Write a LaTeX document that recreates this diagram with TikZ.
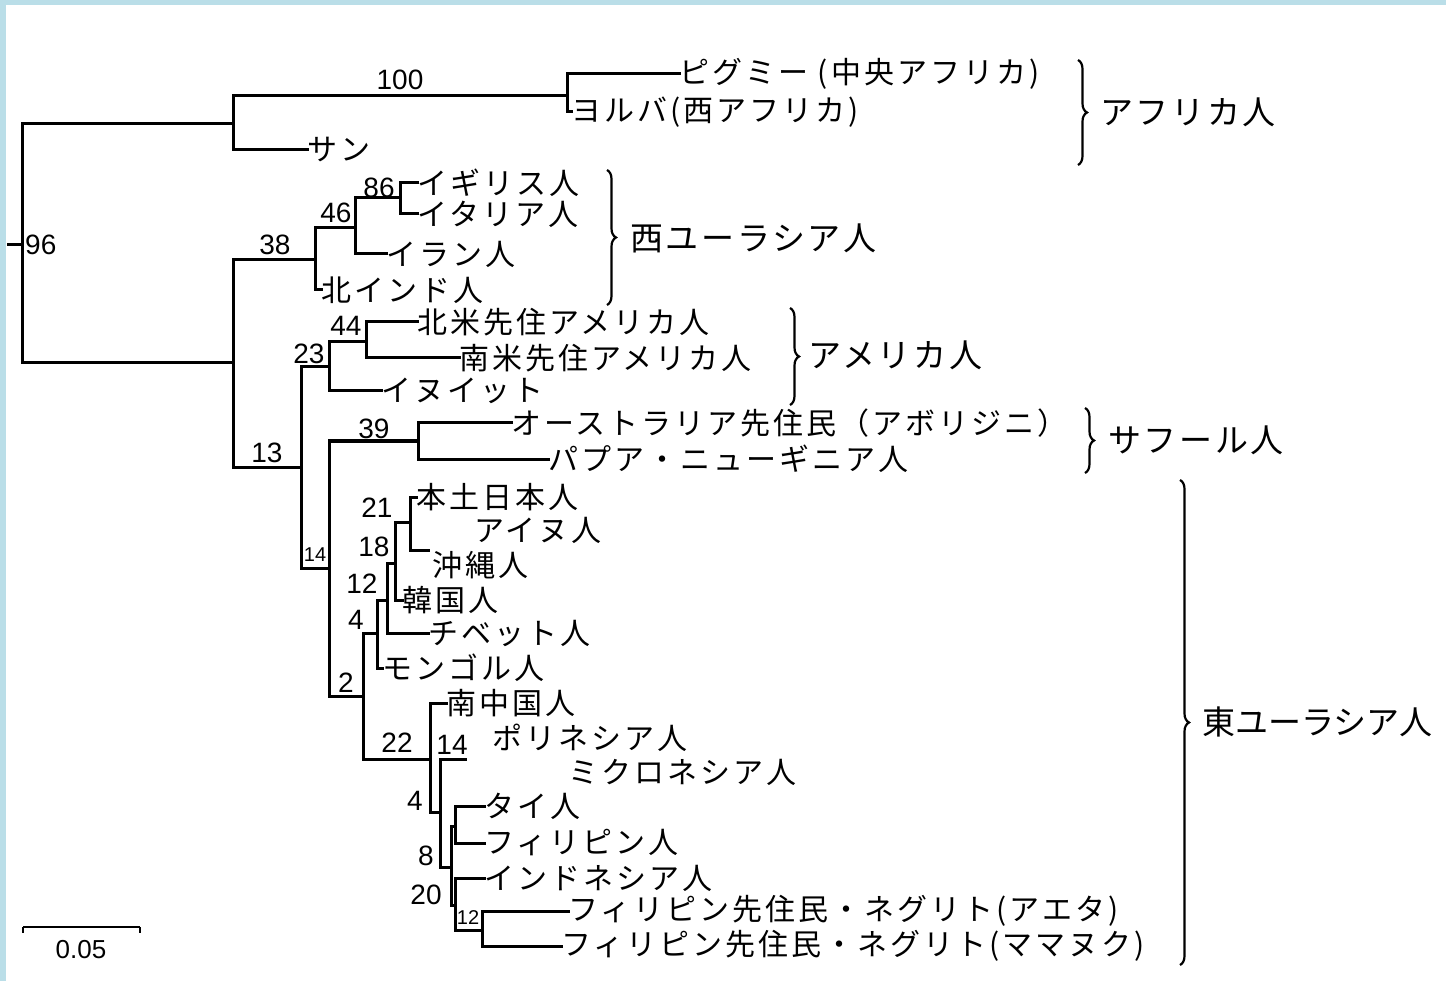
\documentclass[tikz,border=0pt]{standalone}
\usepackage{fontspec}
\newfontfamily\jp[LetterSpace=10]{Noto Sans CJK JP}
\newfontfamily\jpg[LetterSpace=8]{Noto Sans CJK JP}
\newfontfamily\jpn{Noto Sans CJK JP}
\newfontfamily\num{Liberation Sans}
\usetikzlibrary{decorations.pathreplacing}
\definecolor{frameblue}{RGB}{186,222,232}
\begin{document}
\begin{tikzpicture}[x=1pt,y=-1pt,
  tline/.style={line width=3pt, line join=miter, line cap=rect},
  leaf/.style={anchor=west, inner sep=0pt, font=\jp\fontsize{30}{30}\selectfont},
  free/.style={anchor=west, inner sep=0pt, font=\jp\fontsize{30}{30}\selectfont},
  grp/.style={anchor=west, inner sep=0pt, font=\jpg\fontsize{33}{33}\selectfont},
  bs/.style={inner sep=0pt, font=\num\fontsize{28}{30}\selectfont},
  bsmall/.style={inner sep=0pt, font=\num\fontsize{20}{22}\selectfont},
  brc/.style={decorate, decoration={brace, amplitude=9pt}, line width=2.2pt}]
\useasboundingbox (0,0) rectangle (1446,981);
\fill[white] (0,0) rectangle (1446,981);
\fill[frameblue] (0,0) rectangle (1446,5);
\fill[frameblue] (0,0) rectangle (6,981);

% internal nodes
\coordinate (root0) at (8,245);
\coordinate (root) at (22,245);
\coordinate (nA) at (233,124);
\coordinate (nB) at (233,363);
\coordinate (n100) at (567,96);
\coordinate (n38) at (315,260);
\coordinate (n46) at (355,228);
\coordinate (n86) at (400,198);
\coordinate (n13) at (301,467);
\coordinate (n23) at (329,367);
\coordinate (n44) at (366,342);
\coordinate (n14a) at (329,568);
\coordinate (n39) at (418,441);
\coordinate (n2) at (363,696);
\coordinate (n4a) at (377,633);
\coordinate (n12a) at (387,600);
\coordinate (n18) at (395,563);
\coordinate (n21) at (410,522);
\coordinate (okiEnd) at (428,550);
\coordinate (n22) at (430,759);
\coordinate (n4b) at (440,812);
\coordinate (n14b) at (465,759);
\coordinate (n8) at (451,867);
\coordinate (nTP) at (455,826);
\coordinate (n20) at (455,905);
\coordinate (n12b) at (482,930);

% leaf labels
\node[leaf] (pyg) at (679,74) {ピグミー (中央アフリカ)};
\node[leaf] (yor) at (571,112) {ヨルバ(西アフリカ)};
\node[leaf] (san) at (307,150) {サン};
\node[leaf] (eng) at (417,183) {イギリス人};
\node[leaf] (ita) at (417,214) {イタリア人};
\node[leaf] (iran) at (386,254) {イラン人};
\node[leaf] (nind) at (321,290) {北インド人};
\node[leaf] (nam) at (417,322) {北米先住アメリカ人};
\node[leaf] (sam) at (459,358) {南米先住アメリカ人};
\node[leaf] (inu) at (381,391) {イヌイット};
\node[leaf] (aus) at (511,423) {オーストラリア先住民（アボリジニ）};
\node[leaf] (png) at (548,459) {パプア・ニューギニア人};
\node[leaf] (hondo) at (416,497) {本土日本人};
\node[free] (ainu) at (474,530) {アイヌ人};
\node[leaf] (oki) at (432,565) {沖縄人};
\node[leaf] (kor) at (402,600) {韓国人};
\node[leaf] (tib) at (428,633) {チベット人};
\node[leaf] (mon) at (382,668) {モンゴル人};
\node[leaf] (sch) at (446,703) {南中国人};
\node[free] (pol) at (492,738) {ポリネシア人};
\node[free] (mic) at (568,772) {ミクロネシア人};
\node[leaf] (thai) at (484,806) {タイ人};
\node[leaf] (phil) at (484,843) {フィリピン人};
\node[leaf] (indo) at (484,878) {インドネシア人};
\node[leaf] (aeta) at (568,911) {フィリピン先住民・ネグリト(アエタ)};
\node[leaf] (mama) at (561,946) {フィリピン先住民・ネグリト(ママヌク)};

% branches
\draw[tline] (root0) -- (root);
\draw[tline] (root) |- (nA);
\draw[tline] (root) |- (nB);
\draw[tline] (nA) |- (n100);
\draw[tline] (nA) |- (san.west);
\draw[tline] (n100) |- (pyg.west);
\draw[tline] (n100) |- (yor.west);
\draw[tline] (nB) |- (n38);
\draw[tline] (nB) |- (n13);
\draw[tline] (n38) |- (n46);
\draw[tline] (n38) |- (nind.west);
\draw[tline] (n46) |- (n86);
\draw[tline] (n46) |- (iran.west);
\draw[tline] (n86) |- (eng.west);
\draw[tline] (n86) |- (ita.west);
\draw[tline] (n13) |- (n23);
\draw[tline] (n13) |- (n14a);
\draw[tline] (n23) |- (n44);
\draw[tline] (n23) |- (inu.west);
\draw[tline] (n44) |- (nam.west);
\draw[tline] (n44) |- (sam.west);
\draw[tline] (n14a) |- (n39);
\draw[tline] (n14a) |- (n2);
\draw[tline] (n39) |- (aus.west);
\draw[tline] (n39) |- (png.west);
\draw[tline] (n2) |- (n4a);
\draw[tline] (n2) |- (n22);
\draw[tline] (n4a) |- (n12a);
\draw[tline] (n4a) |- (mon.west);
\draw[tline] (n12a) |- (n18);
\draw[tline] (n12a) |- (tib.west);
\draw[tline] (n18) |- (n21);
\draw[tline] (n18) |- (kor.west);
\draw[tline] (n21) |- (hondo.west);
\draw[tline] (n21) |- (okiEnd);
\draw[tline] (n22) |- (sch.west);
\draw[tline] (n22) |- (n4b);
\draw[tline] (n4b) |- (n14b);
\draw[tline] (n4b) |- (n8);
\draw[tline] (n8) |- (nTP);
\draw[tline] (n8) |- (n20);
\draw[tline] (nTP) |- (thai.west);
\draw[tline] (nTP) |- (phil.west);
\draw[tline] (n20) |- (indo.west);
\draw[tline] (n20) |- (n12b);
\draw[tline] (n12b) |- (aeta.west);
\draw[tline] (n12b) |- (mama.west);

% bootstrap values
\node[bs] (b100) at (400,80) {100};
\node[bs, anchor=west] (b96) at (25,245) {96};
\node[bs] (b86) at (379,188) {86};
\node[bs] (b46) at (336,213) {46};
\node[bs] (b38) at (275,245) {38};
\node[bs] (b44) at (346,326) {44};
\node[bs] (b23) at (309,354) {23};
\node[bs] (b39) at (374,429) {39};
\node[bs] (b13) at (267,453) {13};
\node[bsmall] (b14a) at (315,555) {14};
\node[bs] (b21) at (377,508) {21};
\node[bs] (b18) at (374,547) {18};
\node[bs] (b12a) at (362,584) {12};
\node[bs] (b4a) at (356,620) {4};
\node[bs] (b2) at (346,683) {2};
\node[bs] (b22) at (397,743) {22};
\node[bs] (b14b) at (452,745) {14};
\node[bs] (b4b) at (415,801) {4};
\node[bs] (b8) at (426,856) {8};
\node[bs] (b20) at (426,895) {20};
\node[bsmall] (b12b) at (468,918) {12};

% group braces and labels
\draw[brc] (1078,60) -- (1078,165);
\node[grp] (gaf) at (1100,112) {アフリカ人};
\draw[brc] (607,170) -- (607,305);
\node[grp] (gwe) at (630,238) {西ユーラシア人};
\draw[brc] (790,308) -- (790,405);
\node[grp] (gam) at (808,355) {アメリカ人};
\draw[brc] (1085,408) -- (1085,473);
\node[grp] (gsa) at (1108,440) {サフール人};
\draw[brc] (1180,480) -- (1180,965);
\node[grp, font=\jpn\fontsize{33}{33}\selectfont] (gea) at (1202,722) {東ユーラシア人};

% scale bar
\coordinate (sb1) at (23,927);
\coordinate (sb2) at (140,927);
\draw[line width=2.4pt] (sb1) -- (sb2);
\draw[line width=2.4pt] (sb1) -- ++(0,6);
\draw[line width=2.4pt] (sb2) -- ++(0,6);
\node[bs, font=\num\fontsize{26}{28}\selectfont] (sbl) at (81,950) {0.05};
\end{tikzpicture}
\end{document}
